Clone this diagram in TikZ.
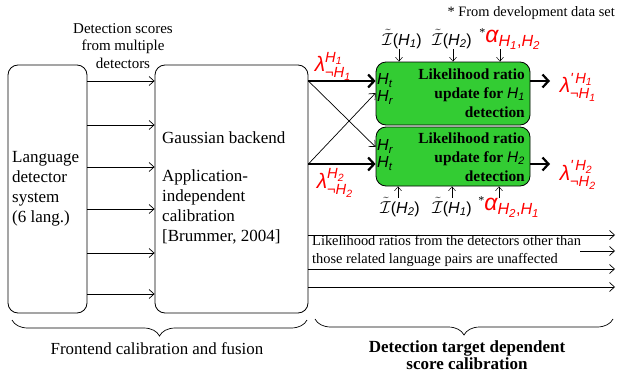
\documentclass[tikz,border=0pt]{standalone}
\usepackage{fontspec}
\usepackage{amsmath}
\setmainfont{Liberation Serif}
\newfontfamily\hv{Liberation Sans}
\usetikzlibrary{arrows.meta,decorations.pathreplacing}
\definecolor{boxgreen}{RGB}{51,204,51}
\definecolor{lred}{RGB}{255,0,0}
% sans italic symbols inside math
\newcommand{\sv}[1]{\text{\hv\itshape\mdseries #1}}
\newcommand{\su}[1]{\text{\hv\upshape\mdseries #1}}
\newcommand{\Hx}[1]{\sv{H}_{\sv{#1}}}
\newcommand{\fs}[2]{\fontsize{#1}{#2}\selectfont}
\begin{document}
\begin{tikzpicture}[x=1pt,y=-1pt,
  box/.style={draw, line width=0.8pt, rounded corners=10pt, inner sep=0pt},
  gbox/.style={draw, line width=0.8pt, rounded corners=10pt, fill=boxgreen,
    minimum width=154pt, inner sep=0pt},
  flow/.style={line width=0.7pt, -{Straight Barb[length=5pt,width=9pt]}},
  smallflow/.style={line width=0.5pt, -{Straight Barb[length=4pt,width=7pt]}},
  bigflow/.style={line width=2.2pt, -{Straight Barb[length=6pt,width=13pt]}},
  lbl/.style={inner sep=0pt},
  red/.style={text=lred, inner sep=0pt},
  brc/.style={decorate, line width=0.7pt,
    decoration={brace, amplitude=16pt, mirror}}]
\useasboundingbox (0,0) rectangle (618,372);

% frontend blocks
\node[box, minimum width=79pt, minimum height=248pt] (lds) at (47.5,189) {};
\node[box, minimum width=153pt, minimum height=248pt] (gb) at (231.5,189) {};
\node[lbl, anchor=west, align=left, font=\fs{17}{20}] (ldstxt) at (12,189)
  {Language\\detector\\system\\(6 lang.)};
\node[lbl, anchor=west, font=\fs{17}{20}] (gbtxt) at (162,138) {Gaussian backend};
\node[lbl, anchor=north west, align=left, font=\fs{17}{20}] (aitxt) at (162,170)
  {Application-\\independent\\calibration\\{[}Brummer, 2004{]}};
\node[lbl, align=center, font=\fs{15}{17.5}] (dstxt) at (123,46)
  {Detection scores\\from multiple\\detectors};

\foreach \y in {81,125,167,209,253,294}
  \draw[flow] (lds.east |- 0,\y) -- (gb.west |- 0,\y);

% target dependent update blocks
\node[gbox, minimum height=63pt] (gt) at (453,93.5) {};
\node[gbox, minimum height=59pt] (gbt) at (453,156.5) {};
\node[lbl, anchor=east, align=right, font=\bfseries\fs{15.4}{19}] (gttxt) at (525,93)
  {Likelihood ratio\\update for $\Hx{1}$\\detection};
\node[lbl, anchor=east, align=right, font=\bfseries\fs{15.4}{19}] (gbttxt) at (525,157)
  {Likelihood ratio\\update for $\Hx{2}$\\detection};
\node[lbl, anchor=west, align=left, font=\fs{16}{17}] (hthr) at (377,89)
  {$\Hx{t}$\\$\Hx{r}$};
\node[lbl, anchor=west, align=left, font=\fs{16}{17}] (hrht) at (377,155)
  {$\Hx{r}$\\$\Hx{t}$};

% connections into the update blocks
\draw[bigflow] (gb.east |- 0,81) -- (gt.west |- 0,81);
\draw[bigflow] (gb.east |- 0,164) -- (gbt.west |- 0,164);
\draw[flow] (gb.east |- 0,81) -- (gbt.west |- 0,147);
\draw[flow] (gb.east |- 0,164) -- (gt.west |- 0,93);

% likelihood ratio labels
\node[red, font=\fs{21}{24}] (lt) at (333,66) {$\sv{λ}^{\Hx{1}}_{\sv{¬}\Hx{1}}$};
\node[red, font=\fs{21}{24}] (lb) at (335,183) {$\sv{λ}^{\Hx{2}}_{\sv{¬}\Hx{2}}$};
\node[red, font=\fs{21}{24}] (lpt) at (578,87) {$\sv{λ}^{\sv{'}\,\Hx{1}}_{\sv{¬}\Hx{1}}$};
\node[red, font=\fs{21}{24}] (lpb) at (578,175) {$\sv{λ}^{\sv{'}\,\Hx{2}}_{\sv{¬}\Hx{2}}$};
\coordinate (o1) at (550,81);
\coordinate (o2) at (550,164);
\draw[bigflow] (gt.east |- o1) -- (o1);
\draw[bigflow] (gbt.east |- o2) -- (o2);

% side information above and below the blocks
\node[lbl, font=\fs{16}{17}] (i11) at (402,39) {$\tilde{\mathcal{I}}\su{(}\Hx{1}\su{)}$};
\node[lbl, font=\fs{16}{17}] (i12) at (452,39) {$\tilde{\mathcal{I}}\su{(}\Hx{2}\su{)}$};
\node[lbl, font=\fs{16}{17}] (a12) at (510,39)
  {\raisebox{6pt}{\fs{12}{12}*}\textcolor{lred}{\fs{23}{23}$\sv{α}_{\Hx{1}\su{,}\Hx{2}}$}};
\node[lbl, font=\fs{16}{17}] (i22) at (400,207) {$\tilde{\mathcal{I}}\su{(}\Hx{2}\su{)}$};
\node[lbl, font=\fs{16}{17}] (i21) at (452,207) {$\tilde{\mathcal{I}}\su{(}\Hx{1}\su{)}$};
\node[lbl, font=\fs{16}{17}] (a21) at (509,207)
  {\raisebox{6pt}{\fs{12}{12}*}\textcolor{lred}{\fs{23}{23}$\sv{α}_{\Hx{2}\su{,}\Hx{1}}$}};
\coordinate (t1) at (399,49);
\coordinate (t2) at (453,49);
\coordinate (t3) at (500,49);
\coordinate (u1) at (398,198);
\coordinate (u2) at (452,198);
\coordinate (u3) at (499,198);
\draw[smallflow] (t1) -- (gt.north -| t1);
\draw[smallflow] (t2) -- (gt.north -| t2);
\draw[smallflow] (t3) -- (gt.north -| t3);
\draw[smallflow] (u1) -- (gbt.south -| u1);
\draw[smallflow] (u2) -- (gbt.south -| u2);
\draw[smallflow] (u3) -- (gbt.south -| u3);
\node[lbl, anchor=east, font=\fs{14.4}{16}] (devnote) at (615,13) {* From development data set};

% unaffected ratios passed through
\coordinate (e1) at (615,235);
\coordinate (s2) at (580,251);
\coordinate (e2) at (615,251);
\coordinate (e3) at (615,269);
\coordinate (e4) at (615,287);
\draw[flow] (gb.east |- e1) -- (e1);
\draw[flow] (s2) -- (e2);
\draw[flow] (gb.east |- e3) -- (e3);
\draw[flow] (gb.east |- e4) -- (e4);
\node[lbl, anchor=west, align=left, font=\fs{14.4}{18}] (unaff) at (312,251)
  {Likelihood ratios from the detectors other than\\those related language pairs are unaffected};

% stage braces
\coordinate (b1l) at (12,320);
\coordinate (b1r) at (307,320);
\coordinate (b2l) at (315,319);
\coordinate (b2r) at (613,319);
\draw[brc] (b1l) -- (b1r);
\draw[brc] (b2l) -- (b2r);
\node[lbl, font=\fs{16.9}{18}] (fe) at (157,349) {Frontend calibration and fusion};
\node[lbl, align=center, font=\bfseries\fs{17}{17.5}] (td) at (467,355)
  {Detection target dependent\\score calibration};
\end{tikzpicture}
\end{document}
